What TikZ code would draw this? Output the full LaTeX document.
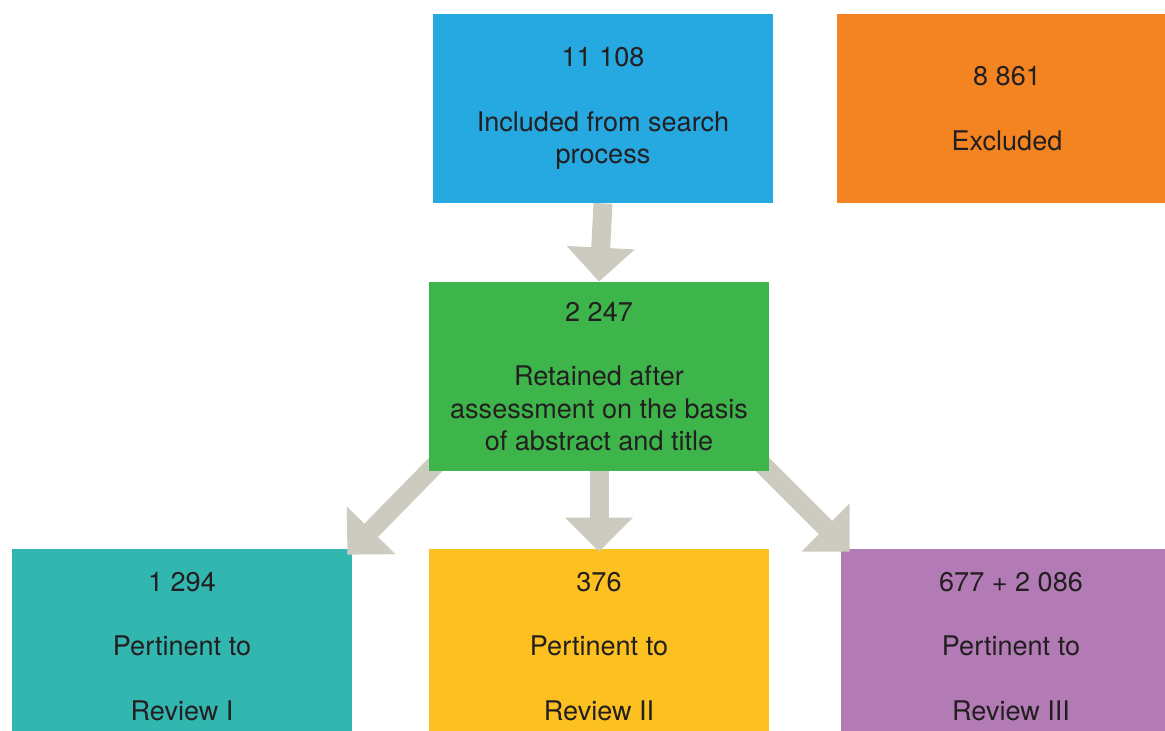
\documentclass[tikz,border=0pt]{standalone}
\usepackage{fontspec}
\setmainfont{TeX Gyre Heros}
\usepackage{tikz}
\usetikzlibrary{arrows.meta}
\usetikzlibrary{positioning,calc}
\usepackage{xcolor}
\definecolor{boxblue}{RGB}{38,168,224}
\definecolor{boxorange}{RGB}{243,132,33}
\definecolor{boxgreen}{RGB}{61,181,74}
\definecolor{boxteal}{RGB}{49,182,176}
\definecolor{boxyellow}{RGB}{252,193,32}
\definecolor{boxpurple}{RGB}{179,123,181}
\definecolor{arrowgray}{RGB}{205,203,192}
\definecolor{txtgray}{RGB}{35,31,32}
\pgfdeclarelayer{front}
\pgfsetlayers{main,front}

\begin{document}
\begin{tikzpicture}
  \tikzset{
    box/.style={
      rectangle,
      minimum width=6.8cm,
      minimum height=3.78cm,
      inner sep=0pt,
      align=center,
      text=txtgray,
      font=\fontsize{15.4}{18.4}\selectfont
    },
    lowbox/.style={
      box,
      minimum height=3.9cm
    },
    bigarrow/.style={
      draw=arrowgray,
      line width=0.38cm,
      -{Triangle[length=0.68cm, width=1.32cm]}
    }
  }
  \useasboundingbox (0,0) rectangle (23.3,-14.6);

  % Top row (Excluded runs off the right edge)
  \node[box, fill=boxblue] (search) at (12.06,-2.17) {11 108\\[18.4pt]Included from search\\process};
  \node[box, fill=boxorange] (excluded) at (20.14,-2.17) {8 861\\[18.4pt]Excluded};

  % Retained box sits above the arrow shafts
  \begin{pgfonlayer}{front}
    \node[box, fill=boxgreen] (retained) at (11.98,-7.53) {2 247\\[18.4pt]Retained after\\assessment on the basis\\of abstract and title};
  \end{pgfonlayer}

  % Bottom row (runs off the lower edge)
  \node[lowbox, fill=boxteal] (review1) at (3.64,-12.93) {1 294\\[18.4pt]Pertinent to\\[18.4pt]Review I};
  \node[lowbox, fill=boxyellow] (review2) at (11.98,-12.93) {376\\[18.4pt]Pertinent to\\[18.4pt]Review II};
  \node[lowbox, fill=boxpurple] (review3) at (20.22,-12.93) {677 + 2 086\\[18.4pt]Pertinent to\\[18.4pt]Review III};

  % Arrows
  \draw[bigarrow] (search.south) -- (retained.north);
  \draw[bigarrow] (retained.south) -- ([yshift=-0.06cm]review2.north);
  \draw[bigarrow] ($(retained.south west)+(0.3,0.3)$) -- ([shift={(-0.1,-0.12)}]review1.north east);
  \draw[bigarrow] ($(retained.south east)+(-0.3,0.3)$) -- ([shift={(0.18,-0.06)}]review3.north west);
\end{tikzpicture}
\end{document}
